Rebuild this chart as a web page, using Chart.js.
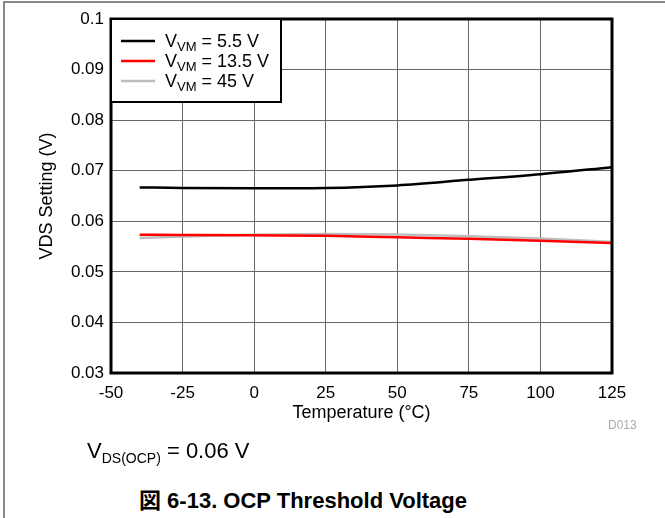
<!DOCTYPE html>
<html>
<head>
<meta charset="utf-8">
<script src="https://cdn.jsdelivr.net/npm/chart.js@4.4.1/dist/chart.umd.min.js"></script>
<style>
  body { margin: 0; background: #fff; font-family: "Liberation Sans", Arial, sans-serif; }
  #page { position: relative; width: 665px; height: 518px; overflow: hidden; }
  #frame { position: absolute; left: 3px; top: 1px; width: 670px; height: 530px;
           border-top: 2px solid #888; border-left: 2px solid #888; }
  #wrap { position: absolute; left: 0; top: 0; width: 665px; height: 440px; }
  #code { position: absolute; left: 608px; top: 418px; font-size: 12px; color: #aaa; }
  #cond { position: absolute; left: 87px; top: 438px; font-size: 22px; color: #000; }
  #cond sub { font-size: 14px; vertical-align: -5px; }
  #caption { position: absolute; left: 0; width: 606px; top: 482px; text-align: center;
             font-size: 22px; font-weight: bold; color: #000; }
  #caption .cjk { font-family: "Noto Sans CJK JP", sans-serif; }
</style>
</head>
<body>
<div id="page">
  <div id="frame"></div>
  <div id="wrap"><canvas id="ocp" width="665" height="440"></canvas></div>
  <div id="code">D013</div>
  <div id="cond">V<sub>DS(OCP)</sub> = 0.06 V</div>
  <div id="caption"><span class="cjk">図</span> 6-13. OCP Threshold Voltage</div>
</div>
<script>
const temperatures = [-40, -25, 0, 25, 50, 75, 100, 125];
const supplyVoltages = ["5.5", "13.5", "45"];
const vds55 = [0.0667, 0.0666, 0.06652, 0.0666, 0.0671, 0.0682, 0.0693, 0.0707];
const vds135 = [0.05735, 0.0573, 0.05722, 0.05715, 0.05683, 0.05655, 0.05616, 0.0557];
const vds45 = [0.05669, 0.0570, 0.05735, 0.05750, 0.05740, 0.05705, 0.0566, 0.0559];
const lineColors = ["#000000", "#ff0000", "#bdbdbd"];

const toPoints = (vals) => vals.map((v, i) => ({ x: temperatures[i], y: v }));

const ctx = document.getElementById("ocp").getContext("2d");
const fontFamily = "'Liberation Sans', Arial, sans-serif";

// frame around the plot area
const plotFrame = {
    id: "plotFrame",
    afterDatasetsDraw(chart) {
        const a = chart.chartArea;
        const c = chart.ctx;
        c.save();
        c.strokeStyle = "#000";
        c.lineWidth = 3;
        c.strokeRect(a.left, a.top, a.right - a.left, a.bottom - a.top);
        c.restore();
    }
};

// legend box with subscripts, like the original
const vmLegend = {
    id: "vmLegend",
    afterDraw(chart) {
        const a = chart.chartArea;
        const c = chart.ctx;
        const x = a.left, y = a.top;
        const w = 170, h = 83;
        c.save();
        c.fillStyle = "#fff";
        c.fillRect(x, y, w, h);
        c.strokeStyle = "#000";
        c.lineWidth = 2;
        c.strokeRect(x, y, w, h);
        c.textBaseline = "alphabetic";
        chart.data.datasets.forEach((ds, i) => {
            const cy = y + 22 + i * 20;
            c.strokeStyle = ds.borderColor;
            c.lineWidth = 2.5;
            c.beginPath();
            c.moveTo(x + 10, cy);
            c.lineTo(x + 44, cy);
            c.stroke();
            c.fillStyle = "#000";
            let tx = x + 54;
            const base = cy + 6;
            c.font = "18px " + fontFamily;
            c.fillText("V", tx, base);
            tx += c.measureText("V").width;
            c.font = "13px " + fontFamily;
            c.fillText("VM", tx, base + 4);
            tx += c.measureText("VM").width;
            c.font = "18px " + fontFamily;
            c.fillText(" = " + supplyVoltages[i] + " V", tx, base);
        });
        c.restore();
    }
};

const ocpData = {
    datasets: [
        { label: "VVM = 5.5 V", data: toPoints(vds55), borderColor: lineColors[0] },
        { label: "VVM = 13.5 V", data: toPoints(vds135), borderColor: lineColors[1] },
        { label: "VVM = 45 V", data: toPoints(vds45), borderColor: lineColors[2] }
    ].map(d => Object.assign(d, {
        borderWidth: 2.5,
        pointRadius: 0,
        fill: false,
        cubicInterpolationMode: "monotone"
    }))
};

const ocpConfig = {
    type: "line",
    data: ocpData,
    options: {
        responsive: false,
        animation: false,
        layout: { padding: { top: 19, right: 53, left: 0, bottom: 0 } },
        plugins: {
            legend: { display: false },
            tooltip: { enabled: false }
        },
        scales: {
            x: {
                type: "linear",
                min: -50,
                max: 125,
                afterFit: (s) => { s.height = 67; },
                ticks: {
                    stepSize: 25,
                    padding: 10,
                    maxRotation: 0,
                    color: "#000",
                    font: { size: 17, family: fontFamily }
                },
                grid: { color: "#666", lineWidth: 1, drawTicks: false },
                border: { display: false },
                title: {
                    display: true,
                    text: "Temperature (°C)",
                    color: "#000",
                    font: { size: 18, family: fontFamily },
                    padding: { top: 0, bottom: 16 }
                }
            },
            y: {
                min: 0.03,
                max: 0.1,
                afterFit: (s) => { s.width = 111; },
                ticks: {
                    stepSize: 0.01,
                    padding: 7,
                    color: "#000",
                    font: { size: 17, family: fontFamily },
                    callback: (v) => String(+v.toFixed(2))
                },
                grid: { color: "#666", lineWidth: 1, drawTicks: false },
                border: { display: false },
                title: {
                    display: true,
                    text: "VDS Setting (V)",
                    color: "#000",
                    font: { size: 18, family: fontFamily },
                    padding: { top: 36, bottom: 0 }
                }
            }
        }
    },
    plugins: [plotFrame, vmLegend]
};

const ocpChart = new Chart(ctx, ocpConfig);
</script>
</body>
</html>
